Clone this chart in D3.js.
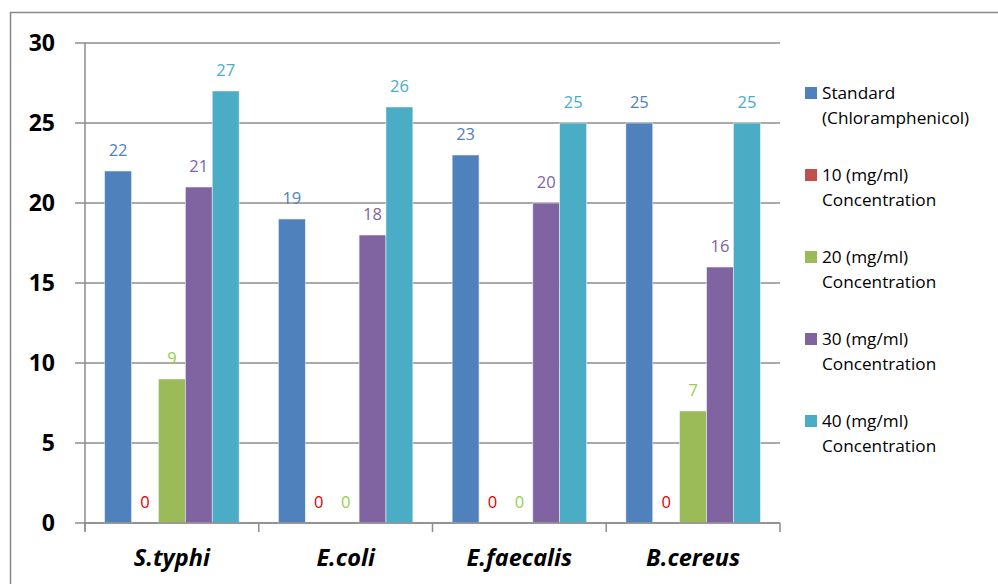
<!DOCTYPE html>
<html>
<head>
<meta charset="utf-8">
<script src="https://cdn.jsdelivr.net/npm/d3@7"></script>
<style>
  html, body { margin: 0; padding: 0; background: #fff; }
  svg { display: block; font-family: "Open Sans", "Noto Sans", sans-serif; }
</style>
</head>
<body>
<svg id="chart" width="998" height="584"></svg>
<script>
// Organisms tested
const categories = ["S.typhi", "E.coli", "E.faecalis", "B.cereus"];
// Series (zone of inhibition, mm)
const seriesNames = [
  ["Standard", "(Chloramphenicol)"],
  ["10 (mg/ml)", "Concentration"],
  ["20 (mg/ml)", "Concentration"],
  ["30 (mg/ml)", "Concentration"],
  ["40 (mg/ml)", "Concentration"]
];
const standard = [22, 19, 23, 25];
const conc10 = [0, 0, 0, 0];
const conc20 = [9, 0, 0, 7];
const conc30 = [21, 18, 20, 16];
const conc40 = [27, 26, 25, 25];
const yTicks = [0, 5, 10, 15, 20, 25, 30];

const barColors = ["#4f81bd", "#c0504d", "#9bbb59", "#8064a2", "#4bacc6"];
const labelColors = ["#4f81bd", "#e00000", "#92d050", "#8064a2", "#4bacc6"];
const allSeries = [standard, conc10, conc20, conc30, conc40];

const svg = d3.select("#chart");

// outer frame
svg.append("path")
  .attr("d", "M10.5,600 V12.5 H1000")
  .attr("fill", "none").attr("stroke", "#888").attr("stroke-width", 1.5);

const plot = { left: 85, right: 780, top: 43, bottom: 523 };

const x0 = d3.scaleBand().domain(categories).range([plot.left, plot.right]).paddingInner(0).paddingOuter(0);
const x1 = d3.scaleBand().domain(d3.range(allSeries.length)).range([0, x0.bandwidth()]).paddingInner(0).paddingOuter(0.73);
const y = d3.scaleLinear().domain([0, 30]).range([plot.bottom, plot.top]);

// horizontal gridlines
svg.append("g").selectAll("line").data(yTicks).join("line")
  .attr("x1", plot.left - 10).attr("x2", plot.right)
  .attr("y1", d => y(d)).attr("y2", d => y(d))
  .attr("stroke", "#8c8c8c").attr("stroke-width", 1.5);

// y axis line
svg.append("line")
  .attr("x1", plot.left).attr("x2", plot.left)
  .attr("y1", plot.top).attr("y2", plot.bottom + 8)
  .attr("stroke", "#8c8c8c").attr("stroke-width", 1.5);

// y tick labels
svg.append("g").selectAll("text").data(yTicks).join("text")
  .attr("x", 55).attr("y", d => y(d))
  .attr("dy", "0.36em")
  .attr("text-anchor", "end")
  .attr("font-size", 23).attr("font-weight", "bold").attr("fill", "#000")
  .text(d => d);

// bars
const groups = svg.append("g").selectAll("g").data(categories).join("g")
  .attr("transform", c => `translate(${x0(c)},0)`);

groups.each(function(c, ci) {
  const g = d3.select(this);
  allSeries.forEach((vals, si) => {
    const v = vals[ci];
    if (v > 0) {
      g.append("rect")
        .attr("x", x1(si)).attr("width", x1.bandwidth())
        .attr("y", y(v)).attr("height", y(0) - y(v))
        .attr("fill", barColors[si])
        .attr("stroke", "#e6eef6").attr("stroke-width", 0.6);
    }
    g.append("text")
      .attr("x", x1(si) + x1.bandwidth() / 2)
      .attr("y", y(v) - 15)
      .attr("text-anchor", "middle")
      .attr("font-size", 16.5)
      .attr("fill", labelColors[si])
      .text(v);
  });
});

// x axis baseline and category ticks
svg.append("line")
  .attr("x1", plot.left).attr("x2", plot.right)
  .attr("y1", plot.bottom).attr("y2", plot.bottom)
  .attr("stroke", "#8c8c8c").attr("stroke-width", 1.5);
const boundaries = categories.map(c => x0(c)).concat([plot.right]);
svg.append("g").selectAll("line").data(boundaries).join("line")
  .attr("x1", d => d).attr("x2", d => d)
  .attr("y1", plot.bottom).attr("y2", plot.bottom + 9)
  .attr("stroke", "#8c8c8c").attr("stroke-width", 1.5);

// category labels
svg.append("g").selectAll("text").data(categories).join("text")
  .attr("x", c => x0(c) + x0.bandwidth() / 2)
  .attr("y", 566)
  .attr("text-anchor", "middle")
  .attr("font-size", 23.5).attr("font-weight", "bold").attr("font-style", "italic")
  .attr("fill", "#000")
  .text(c => c);

// legend
const legend = svg.append("g").selectAll("g").data(seriesNames).join("g")
  .attr("transform", (d, i) => `translate(805,${87 + i * 82})`);
legend.append("rect")
  .attr("width", 12).attr("height", 12)
  .attr("fill", (d, i) => barColors[i]);
legend.each(function(lines) {
  const g = d3.select(this);
  lines.forEach((t, li) => {
    g.append("text")
      .attr("x", 17).attr("y", 12 + li * 25)
      .attr("font-size", 17.2).attr("fill", "#000")
      .text(t);
  });
});
</script>
</body>
</html>
